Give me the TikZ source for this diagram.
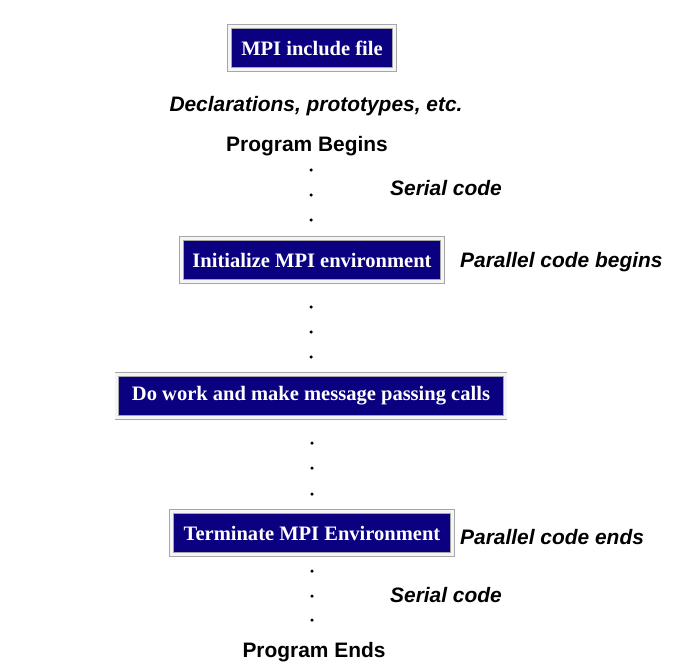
\documentclass[tikz,border=0pt]{standalone}
\usepackage{fontspec}
\setmainfont{Liberation Serif}
\setsansfont{Liberation Sans}
\usepackage{xcolor}
\usetikzlibrary{positioning}
\definecolor{mpinavy}{RGB}{10,0,128}

\begin{document}
\begin{tikzpicture}[
  x=1bp, y=-1bp,
  box/.style={draw=gray!70, line width=0.6bp, double=gray!8, double distance=3bp, fill=mpinavy, text=white, minimum height=43bp, inner sep=0pt, font=\fontsize{20.6}{24}\selectfont\bfseries},
  lbl/.style={font=\sffamily\fontsize{21}{25}\selectfont\bfseries, inner sep=0pt},
  note/.style={lbl, font=\sffamily\fontsize{21}{25}\selectfont\bfseries\itshape},
  dot/.style={circle, fill=black, inner sep=0pt, minimum size=3.5bp}
]
  \useasboundingbox (0,0) rectangle (688,667);

  \node[box, minimum width=165bp] (incl) at (312,48) {MPI include file};
  \node[note] (decl) at (316,106) {Declarations, prototypes, etc.};
  \node[lbl] (begin) at (307,146) {Program Begins};

  \node[dot] (d1) at (311,170) {};
  \node[dot] (d2) at (311,195) {};
  \node[dot] (d3) at (311,220) {};
  \node[note, anchor=west] (serial1) at (390,188) {Serial code};

  \node[box, minimum width=261bp] (init) at (312,260) {Initialize MPI environment};
  \node[note, anchor=west] (pbegin) at (460,262) {Parallel code begins};

  \node[dot] (d4) at (311,307) {};
  \node[dot] (d5) at (311,332) {};
  \node[dot] (d6) at (311,357) {};

  \node[box, minimum width=388bp] (work) at (311,396) {Do work and make message passing calls};

  \node[dot] (d7) at (312,443) {};
  \node[dot] (d8) at (312,468) {};
  \node[dot] (d9) at (312,494) {};

  \node[box, minimum width=281bp] (term) at (312,533) {Terminate MPI Environment};
  \node[note, anchor=west] (pend) at (460,537) {Parallel code ends};

  \node[dot] (d10) at (312,571) {};
  \node[dot] (d11) at (312,596) {};
  \node[dot] (d12) at (312,620) {};
  \node[note, anchor=west] (serial2) at (390,595) {Serial code};

  \node[lbl] (finish) at (314,652) {Program Ends};
\end{tikzpicture}
\end{document}
